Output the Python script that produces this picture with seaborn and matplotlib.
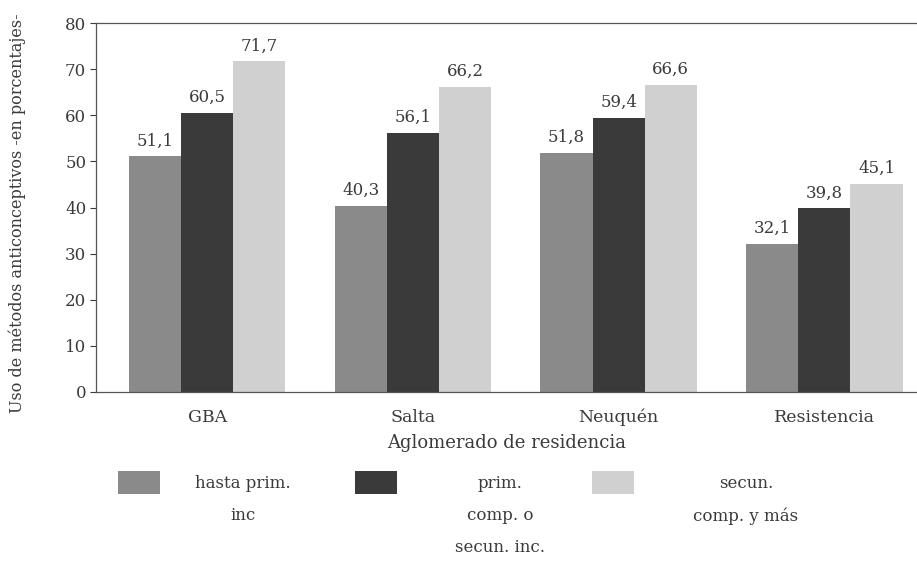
import matplotlib
matplotlib.use("Agg")
import matplotlib.pyplot as plt
from matplotlib.patches import Rectangle
import seaborn as sns
import pandas as pd

aglomerados = ["GBA", "Salta", "Neuquén", "Resistencia"]
niveles = ["hasta prim.\ninc", "prim.\ncomp. o\nsecun. inc.", "secun.\ncomp. y más"]
hasta_prim_inc = [51.1, 40.3, 51.8, 32.1]
prim_comp_secun_inc = [60.5, 56.1, 59.4, 39.8]
secun_comp_y_mas = [71.7, 66.2, 66.6, 45.1]
y_ticks = [0, 10, 20, 30, 40, 50, 60, 70, 80]

rows = []
for serie, nivel in zip([hasta_prim_inc, prim_comp_secun_inc, secun_comp_y_mas], niveles):
    for ag, v in zip(aglomerados, serie):
        rows.append({"Aglomerado": ag, "Nivel": nivel, "Valor": v})
df = pd.DataFrame(rows)

sns.set_theme(style="white")
plt.rcParams["font.family"] = ["DejaVu Serif", "Liberation Serif"]
texto = "#3a3a3a"

W, H = 917, 565
fig = plt.figure(figsize=(W / 100, H / 100), dpi=100)
ax = fig.add_axes([96 / W, 1 - 392 / H, 1 - 96 / W, (392 - 23) / H])

colores = ["#8a8a8a", "#3a3a3a", "#d0d0d0"]
sns.barplot(data=df, x="Aglomerado", y="Valor", hue="Nivel", hue_order=niveles,
            order=aglomerados, palette=colores, width=0.76, gap=0,
            saturation=1, edgecolor="none", ax=ax, legend=False)

for cont in ax.containers:
    labels = [f"{b.get_height():.1f}".replace(".", ",") for b in cont]
    ax.bar_label(cont, labels=labels, padding=5, fontsize=12, color=texto)

ax.set_ylim(0, 80)
ax.set_xlim(-0.54, 3.45)
ax.set_yticks(y_ticks)
ax.tick_params(axis="y", which="both", left=True, length=4, width=0.8,
               labelsize=12, colors=texto, pad=3)
ax.tick_params(axis="x", bottom=False, labelsize=12.5, colors=texto, pad=6)
for s in ["left", "bottom", "top"]:
    ax.spines[s].set_visible(True)
    ax.spines[s].set_color("#555555")
    ax.spines[s].set_linewidth(0.9)
ax.spines["right"].set_visible(False)

ax.set_xlabel("Aglomerado de residencia", fontsize=13, color=texto, labelpad=6)
ax.set_ylabel("")
fig.text(17 / W, 1 - 213 / H, "Uso de métodos anticonceptivos -en porcentajes-",
         rotation=90, ha="center", va="center", fontsize=11.5, color=texto)

# legend: swatch followed by a centred multi-line caption
swatch_x = [118, 355, 592]
caption_x = [243, 500, 746]
for x0, xc, col, lab in zip(swatch_x, caption_x, colores, niveles):
    fig.add_artist(Rectangle((x0 / W, 1 - 494 / H), 42 / W, 23 / H,
                             transform=fig.transFigure, color=col, lw=0))
    fig.text(xc / W, 1 - 475 / H, lab, ha="center", va="top", fontsize=12,
             color=texto, linespacing=2.15, multialignment="center")

fig.savefig("out.png", dpi=100)
